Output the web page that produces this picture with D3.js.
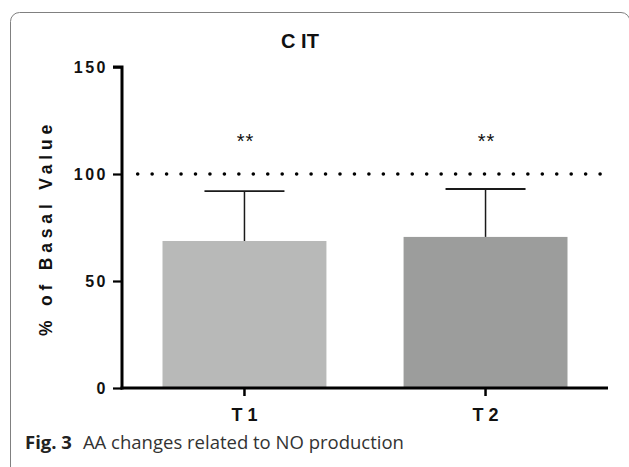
<!DOCTYPE html>
<html>
<head>
<meta charset="utf-8">
<script src="https://cdn.jsdelivr.net/npm/d3@7"></script>
<style>
  html, body { margin: 0; padding: 0; background: #fff; }
  svg { display: block; }
</style>
</head>
<body>
<svg id="chart" width="629" height="467"></svg>
<script>
// ---- data ----
const categories = ["T 1", "T 2"];
const means = [68.7, 70.6];
const errorTops = [92, 93];
const significance = ["**", "**"];
const yTicks = [0, 50, 100, 150];
const referenceValue = 100;
const barColors = ["#b8b9b8", "#9c9d9c"];
const title = "C IT";
const yLabel = "% of Basal Value";
const captionBold = "Fig. 3";
const captionText = "AA changes related to NO production";

const svg = d3.select("#chart");

// frame
svg.append("rect")
  .attr("x", 10.5).attr("y", 12.5)
  .attr("width", 619.5).attr("height", 480)
  .attr("rx", 9).attr("ry", 9)
  .attr("fill", "none").attr("stroke", "#808080").attr("stroke-width", 1);

const x0 = 122, x1 = 608, yTop = 67, yBottom = 388;

const y = d3.scaleLinear().domain([0, 150]).range([yBottom, yTop]);
const x = d3.scaleBand().domain(categories).range([x0, x1])
  .paddingInner(0.32).paddingOuter(0.168);

// bars
svg.selectAll("rect.bar").data(categories).join("rect")
  .attr("class", "bar")
  .attr("x", d => x(d))
  .attr("width", x.bandwidth())
  .attr("y", (d, i) => y(means[i]))
  .attr("height", (d, i) => y(0) - y(means[i]))
  .attr("fill", (d, i) => barColors[i]);

// error bars
const capW = 80;
categories.forEach((c, i) => {
  const cx = x(c) + x.bandwidth() / 2;
  svg.append("line")
    .attr("x1", cx).attr("x2", cx)
    .attr("y1", y(means[i])).attr("y2", y(errorTops[i]))
    .attr("stroke", "#1a1a1a").attr("stroke-width", 1.5);
  svg.append("line")
    .attr("x1", cx - capW / 2).attr("x2", cx + capW / 2)
    .attr("y1", y(errorTops[i])).attr("y2", y(errorTops[i]))
    .attr("stroke", "#1a1a1a").attr("stroke-width", 1.8);
});

// reference dotted line
svg.append("line")
  .attr("x1", 137.7).attr("x2", 603)
  .attr("y1", y(referenceValue)).attr("y2", y(referenceValue))
  .attr("stroke", "#000").attr("stroke-width", 3.6)
  .attr("stroke-linecap", "round")
  .attr("stroke-dasharray", "0 14.45");

// significance
svg.selectAll("text.sig").data(categories).join("text")
  .attr("class", "sig")
  .attr("x", d => x(d) + x.bandwidth() / 2 + 1)
  .attr("y", 148)
  .attr("text-anchor", "middle")
  .attr("font-family", "Liberation Sans, Arial, sans-serif")
  .attr("font-size", 20)
  .attr("letter-spacing", 1)
  .attr("fill", "#111")
  .text((d, i) => significance[i]);

// y axis
const yAxis = d3.axisLeft(y).tickValues(yTicks).tickSize(9).tickPadding(5).tickFormat(d3.format("d"));
const gy = svg.append("g").attr("transform", `translate(${x0},0)`).call(yAxis);
gy.select(".domain").attr("stroke", "#000").attr("stroke-width", 3)
  .attr("d", `M-9,${yTop}H0V${yBottom + 1.5}`);
gy.selectAll(".tick line").attr("stroke", "#000").attr("stroke-width", 2.2);
gy.selectAll(".tick text")
  .attr("font-family", "Liberation Sans, Arial, sans-serif")
  .attr("font-weight", "bold").attr("font-size", 16)
  .attr("letter-spacing", 2.5).attr("fill", "#111").attr("dy", "0.34em");

// x axis
const xAxis = d3.axisBottom(x).tickSize(8).tickPadding(12);
const gx = svg.append("g").attr("transform", `translate(0,${yBottom})`).call(xAxis);
gx.select(".domain").attr("stroke", "#000").attr("stroke-width", 3)
  .attr("d", `M${x0 - 1.5},0H${x1}`);
gx.selectAll(".tick line").attr("stroke", "#000").attr("stroke-width", 2.5);
gx.selectAll(".tick text")
  .attr("font-family", "Liberation Sans, Arial, sans-serif")
  .attr("font-weight", "bold").attr("font-size", 18)
  .attr("fill", "#111");

// title
svg.append("text")
  .attr("x", 300).attr("y", 48)
  .attr("text-anchor", "middle")
  .attr("font-family", "Liberation Sans, Arial, sans-serif")
  .attr("font-weight", "bold").attr("font-size", 20)
  .attr("fill", "#111")
  .text(title);

// y label
svg.append("text")
  .attr("transform", "translate(52,228) rotate(-90)")
  .attr("text-anchor", "middle")
  .attr("font-family", "Liberation Sans, Arial, sans-serif")
  .attr("font-weight", "bold").attr("font-size", 17.5)
  .attr("letter-spacing", 4.8)
  .attr("fill", "#111")
  .text(yLabel);

// caption
const cap = svg.append("text")
  .attr("x", 25).attr("y", 449)
  .attr("font-family", "Open Sans, Noto Sans, sans-serif")
  .attr("font-size", 18.5)
  .attr("fill", "#333");
cap.append("tspan").attr("font-weight", "bold").attr("fill", "#222").text(captionBold);
cap.append("tspan").attr("dx", 11).text(captionText);
</script>
</body>
</html>
